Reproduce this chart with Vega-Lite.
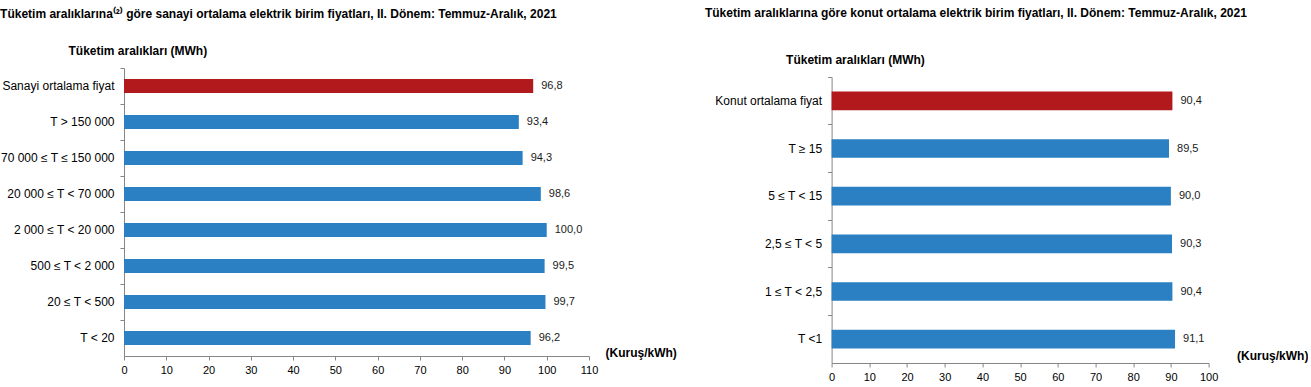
{
  "$schema": "https://vega.github.io/schema/vega-lite/v6.json",
  "padding": {"left": 0, "top": 7, "right": 0, "bottom": 0},
  "bounds": "flush",
  "spacing": 242.6,
  "config": {
    "font": "Liberation Sans",
    "view": {"stroke": null},
    "locale": {"number": {"decimal": ",", "thousands": ".", "grouping": [3], "currency": ["", " TL"]}},
    "axis": {"grid": false, "labelFlush": false, "domainColor": "#868686", "tickColor": "#868686", "labelColor": "#000000", "labelFont": "Liberation Sans", "labelFontSize": 12, "titleFont": "Liberation Sans", "titleFontSize": 12, "titleFontWeight": "bold", "titleColor": "#000000", "tickSize": 4},
    "title": {"anchor": "start", "font": "Liberation Sans", "fontSize": 12, "fontWeight": "bold", "color": "#000000"}
  },
  "hconcat": [
    {
      "title": {"text": "Tüketim aralıklarına⁽²⁾ göre sanayi ortalama elektrik birim fiyatları, II. Dönem: Temmuz-Aralık, 2021", "offset": 23},
      "width": 465,
      "height": 288,
      "data": {"values": [
        {"aralik": "Sanayi ortalama fiyat", "fiyat": 96.8, "tur": "ortalama"},
        {"aralik": "T > 150 000", "fiyat": 93.4, "tur": "aralik"},
        {"aralik": "70 000 ≤ T ≤ 150 000", "fiyat": 94.3, "tur": "aralik"},
        {"aralik": "20 000 ≤ T < 70 000", "fiyat": 98.6, "tur": "aralik"},
        {"aralik": "2 000 ≤ T < 20 000", "fiyat": 100.0, "tur": "aralik"},
        {"aralik": "500 ≤ T < 2 000", "fiyat": 99.5, "tur": "aralik"},
        {"aralik": "20 ≤ T < 500", "fiyat": 99.7, "tur": "aralik"},
        {"aralik": "T < 20", "fiyat": 96.2, "tur": "aralik"}
      ]},
      "encoding": {
        "y": {"field": "aralik", "type": "nominal", "sort": null, "scale": {"paddingInner": 0, "paddingOuter": 0},
          "axis": {"title": "Tüketim aralıkları (MWh)", "titleAngle": 0, "titleAlign": "left", "titleBaseline": "middle", "titleX": -56, "titleY": -18, "bandPosition": 0, "labelPadding": 6}},
        "x": {"field": "fiyat", "type": "quantitative", "scale": {"domain": [0, 110], "nice": false},
          "axis": {"values": [0, 10, 20, 30, 40, 50, 60, 70, 80, 90, 100, 110], "format": "d", "labelFontSize": 11, "title": "(Kuruş/kWh)", "titleAlign": "left", "titleBaseline": "middle", "titleX": 481, "titleY": -4, "labelPadding": 4}}
      },
      "layer": [
        {"mark": {"type": "bar", "height": {"band": 0.39}},
         "encoding": {"color": {"field": "tur", "type": "nominal", "scale": {"domain": ["ortalama", "aralik"], "range": ["#B2191D", "#2A80C3"]}, "legend": null}}},
        {"mark": {"type": "text", "align": "left", "baseline": "middle", "dx": 8, "fontSize": 11, "color": "#1a1a1a"},
         "encoding": {"text": {"field": "fiyat", "type": "quantitative", "format": ".1f"}}}
      ]
    },
    {
      "title": {"text": "Tüketim aralıklarına göre konut ortalama elektrik birim fiyatları, II. Dönem: Temmuz-Aralık, 2021", "offset": 33, "dx": -10},
      "width": 377,
      "height": 295,
      "data": {"values": [
        {"aralik": "Konut ortalama fiyat", "fiyat": 90.4, "tur": "ortalama"},
        {"aralik": "T ≥ 15", "fiyat": 89.5, "tur": "aralik"},
        {"aralik": "5 ≤ T < 15", "fiyat": 90.0, "tur": "aralik"},
        {"aralik": "2,5 ≤ T < 5", "fiyat": 90.3, "tur": "aralik"},
        {"aralik": "1 ≤ T < 2,5", "fiyat": 90.4, "tur": "aralik"},
        {"aralik": "T <1", "fiyat": 91.1, "tur": "aralik"}
      ]},
      "encoding": {
        "y": {"field": "aralik", "type": "nominal", "sort": null, "scale": {"paddingInner": 0, "paddingOuter": 0, "range": [9, 295]},
          "axis": {"title": "Tüketim aralıkları (MWh)", "titleAngle": 0, "titleAlign": "left", "titleBaseline": "middle", "titleX": -46, "titleY": -9, "bandPosition": 0, "labelPadding": 6}},
        "x": {"field": "fiyat", "type": "quantitative", "scale": {"domain": [0, 100], "nice": false},
          "axis": {"values": [0, 10, 20, 30, 40, 50, 60, 70, 80, 90, 100], "format": "d", "labelFontSize": 11, "title": "(Kuruş/kWh)", "titleAlign": "left", "titleBaseline": "middle", "titleX": 405, "titleY": -8, "labelPadding": 4}}
      },
      "layer": [
        {"mark": {"type": "bar", "height": {"band": 0.39}},
         "encoding": {"color": {"field": "tur", "type": "nominal", "scale": {"domain": ["ortalama", "aralik"], "range": ["#B2191D", "#2A80C3"]}, "legend": null}}},
        {"mark": {"type": "text", "align": "left", "baseline": "middle", "dx": 8, "fontSize": 11, "color": "#1a1a1a"},
         "encoding": {"text": {"field": "fiyat", "type": "quantitative", "format": ".1f"}}}
      ]
    }
  ]
}
